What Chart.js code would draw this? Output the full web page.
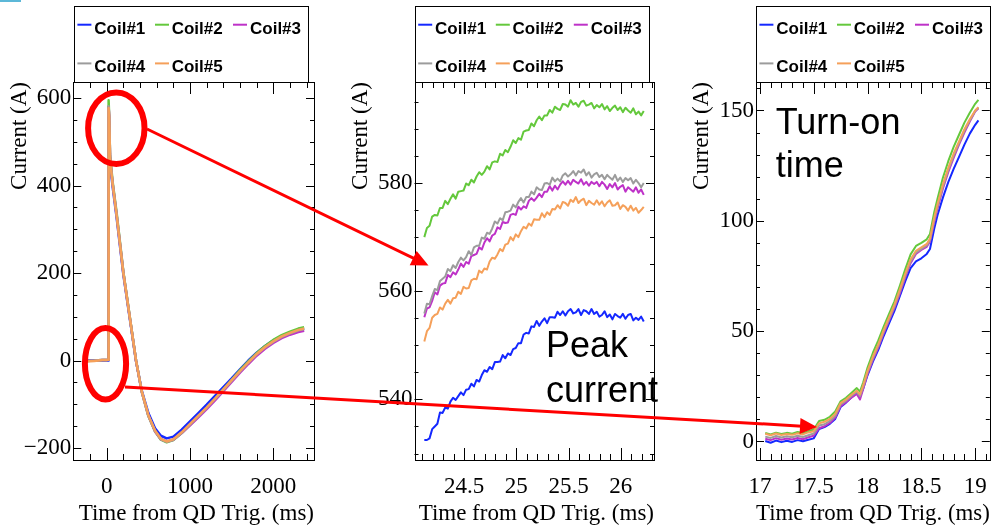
<!DOCTYPE html>
<html><head><meta charset="utf-8">
<script src="https://cdn.jsdelivr.net/npm/chart.js@4"></script>
<style>
html,body{margin:0;padding:0;background:#fff;}
body{width:992px;height:528px;overflow:hidden;position:relative;}
canvas{position:absolute;left:0;top:0;}
#ov{position:absolute;left:0;top:0;}
#tab{position:absolute;left:0;top:0;width:21px;height:2px;background:#5cb8d8;}
</style></head><body>
<div id="tab"></div>
<canvas id="c1" width="1000" height="528"></canvas>
<canvas id="c2" width="1000" height="528"></canvas>
<canvas id="c3" width="1000" height="528"></canvas>
<svg id="ov" width="992" height="528" xmlns="http://www.w3.org/2000/svg"></svg>
<script>
// ---------- data ----------
const SERIES = ['Coil#1', 'Coil#2', 'Coil#3', 'Coil#4', 'Coil#5'];
const COLORS = ['#1428ff', '#64c83c', '#be32c8', '#9c9c9c', '#f5a05a'];
const X_TITLE = 'Time from QD Trig. (ms)';
const Y_TITLE = 'Current (A)';

// Panel 1: full discharge
const T1 = [-250, -150, -50, 0, 17, 20, 22, 24, 25.6, 30, 40, 55, 72, 120, 200, 280, 352, 420, 500, 580, 650, 720, 800, 900, 1000, 1100, 1200, 1300, 1400, 1500, 1600, 1700, 1800, 1900, 2000, 2100, 2200, 2300, 2370];
const P1_COIL1 = [0, 0, 0, 0, 0, 140, 330, 532, 555, 530, 450, 425, 396, 325, 196, 92, -1, -68, -120, -155, -172, -178, -174, -158, -139, -120, -101, -81, -61, -41, -20, 0, 18, 33, 46, 56, 64, 70, 73];
const P1_COIL2 = [-1, 0, 1, 1, 2, 155, 360, 569, 595, 556, 470, 440, 407, 336, 203, 96, 0, -71, -127, -162, -181, -187, -182, -166, -147, -128, -108, -88, -66, -44, -22, -2, 17, 33, 47, 58, 66, 73, 76];
const P1_COIL3 = [-1, 0, 1, 1, 2, 148, 345, 555, 579, 558, 465, 433, 403, 331, 200, 94, -1, -71, -126, -162, -180, -185, -181, -166, -148, -130, -111, -91, -70, -49, -28, -8, 11, 27, 40, 51, 59, 65, 68];
const P1_COIL4 = [-1, 0, 1, 1, 2, 150, 350, 556, 581, 560, 466, 434, 404, 332, 201, 95, 0, -70, -126, -161, -180, -186, -181, -165, -146, -127, -108, -88, -67, -46, -25, -5, 14, 30, 43, 54, 62, 69, 72];
const P1_COIL5 = [-2, -1, 1, 1, 2, 150, 350, 551, 577, 556, 464, 432, 402, 330, 200, 95, 0, -70, -125, -160, -179, -185, -180, -164, -145, -126, -107, -87, -66, -45, -24, -4, 15, 31, 44, 55, 63, 70, 73];
const P1_XTICKS = [0, 1000, 2000];
const P1_YTICKS = [-200, 0, 200, 400, 600];

// Panel 2: peak current
const T2 = [24.12, 24.145, 24.17, 24.195, 24.22, 24.245, 24.27, 24.295, 24.32, 24.345, 24.37, 24.395, 24.42, 24.445, 24.47, 24.495, 24.52, 24.545, 24.57, 24.595, 24.62, 24.645, 24.67, 24.695, 24.72, 24.745, 24.77, 24.795, 24.82, 24.845, 24.87, 24.895, 24.92, 24.945, 24.97, 24.995, 25.02, 25.045, 25.07, 25.095, 25.12, 25.145, 25.17, 25.195, 25.22, 25.245, 25.27, 25.295, 25.32, 25.345, 25.37, 25.395, 25.42, 25.445, 25.47, 25.495, 25.52, 25.545, 25.57, 25.595, 25.62, 25.645, 25.67, 25.695, 25.72, 25.745, 25.77, 25.795, 25.82, 25.845, 25.87, 25.895, 25.92, 25.945, 25.97, 25.995, 26.02, 26.045, 26.07, 26.095, 26.12, 26.145, 26.17, 26.195, 26.22];
const P2_COIL1 = [532.5, 532.5, 532.8, 534.5, 535.0, 535.5, 537.6, 537.5, 538.5, 538.3, 539.6, 540.3, 539.9, 540.6, 541.3, 540.8, 541.8, 541.9, 542.9, 542.4, 543.6, 543.3, 544.5, 545.4, 545.1, 546.0, 545.6, 546.9, 546.9, 547.0, 548.2, 547.6, 548.5, 548.2, 549.3, 549.5, 550.4, 550.4, 552.0, 552.3, 552.2, 553.5, 553.4, 554.5, 553.6, 554.4, 555.0, 554.1, 555.2, 555.2, 555.1, 556.2, 555.6, 556.3, 555.5, 556.3, 556.7, 555.9, 556.1, 556.7, 555.6, 556.5, 556.3, 555.8, 556.7, 555.8, 556.2, 555.3, 555.6, 556.3, 555.2, 555.7, 554.8, 555.8, 555.4, 555.1, 555.8, 554.9, 555.6, 555.8, 554.6, 555.1, 554.7, 555.3, 554.4];
const P2_COIL2 = [570.0, 571.7, 572.1, 573.8, 574.1, 574.0, 575.4, 575.4, 576.7, 576.1, 577.1, 577.9, 577.1, 578.4, 578.5, 578.6, 579.9, 579.6, 580.6, 580.1, 581.2, 582.0, 581.5, 582.1, 583.1, 582.5, 583.8, 584.0, 583.9, 585.4, 585.1, 586.1, 585.7, 586.7, 587.9, 587.4, 588.3, 588.0, 589.5, 589.7, 589.8, 591.0, 590.5, 591.6, 592.3, 591.6, 592.5, 592.5, 593.5, 593.0, 594.1, 593.7, 593.5, 594.6, 594.5, 594.1, 595.3, 594.5, 594.8, 594.1, 595.0, 595.2, 594.3, 594.5, 594.8, 593.8, 594.4, 594.0, 594.6, 593.6, 594.2, 593.3, 593.9, 594.3, 593.5, 594.0, 593.1, 593.9, 593.4, 593.0, 593.8, 592.7, 593.2, 592.5, 593.3];
const P2_COIL3 = [555.2, 556.8, 557.0, 558.2, 559.8, 559.4, 561.0, 561.4, 561.5, 563.0, 562.6, 563.5, 563.1, 564.0, 565.1, 564.5, 565.4, 565.1, 566.5, 566.7, 566.9, 568.1, 567.7, 569.0, 569.8, 569.2, 570.3, 570.6, 571.8, 571.5, 572.8, 572.6, 572.7, 574.1, 574.3, 574.1, 575.6, 575.1, 575.7, 575.4, 576.7, 577.2, 576.7, 577.3, 578.0, 577.4, 578.4, 578.4, 579.4, 578.6, 579.5, 578.8, 579.7, 580.3, 579.7, 580.4, 579.7, 580.6, 580.2, 579.9, 580.7, 579.7, 580.2, 579.5, 580.2, 579.8, 580.2, 579.4, 580.2, 579.7, 578.9, 579.8, 579.2, 580.0, 578.8, 579.3, 579.6, 578.4, 579.2, 578.8, 578.4, 579.2, 578.2, 578.8, 577.8];
const P2_COIL4 = [555.9, 557.7, 557.6, 559.1, 560.4, 560.2, 561.9, 562.3, 562.7, 564.1, 563.7, 564.8, 564.3, 565.4, 566.2, 565.7, 566.3, 567.4, 566.7, 568.1, 568.4, 568.4, 569.9, 569.7, 570.8, 570.6, 571.6, 572.9, 572.5, 573.5, 573.1, 574.6, 574.7, 574.9, 576.0, 575.5, 576.5, 577.2, 576.4, 577.4, 577.4, 578.4, 577.9, 579.2, 578.8, 578.7, 579.9, 580.0, 579.7, 581.0, 580.3, 580.8, 580.3, 581.4, 581.8, 581.2, 581.6, 582.2, 581.4, 582.2, 581.9, 582.5, 581.4, 582.0, 581.0, 581.6, 581.9, 581.1, 581.5, 580.7, 581.5, 581.0, 580.6, 581.5, 580.4, 581.0, 580.2, 580.9, 580.5, 580.9, 579.9, 580.6, 580.0, 579.2, 580.0];
const P2_COIL5 = [550.7, 552.6, 553.2, 555.1, 555.6, 555.8, 557.0, 556.6, 557.7, 558.4, 557.7, 558.7, 558.8, 559.9, 559.5, 560.8, 560.5, 560.6, 562.0, 562.3, 562.2, 563.8, 563.4, 564.2, 564.0, 565.5, 566.2, 566.0, 566.8, 567.8, 567.4, 568.6, 568.8, 570.0, 569.4, 570.5, 570.0, 571.1, 571.9, 571.6, 572.5, 572.1, 573.3, 573.2, 573.2, 574.4, 573.7, 574.6, 574.1, 575.2, 575.1, 575.9, 575.3, 576.5, 576.3, 575.8, 576.9, 576.5, 577.4, 576.3, 576.8, 577.1, 575.9, 576.7, 576.3, 576.0, 576.8, 576.0, 576.6, 575.7, 576.4, 576.8, 575.8, 575.9, 576.4, 575.2, 575.9, 575.6, 574.9, 575.8, 574.9, 575.4, 574.5, 575.0, 575.6];
const P2_XTICKS = [24.5, 25, 25.5, 26];
const P2_YTICKS = [540, 560, 580];

// Panel 3: turn-on time
const T3 = [17.05, 17.1, 17.15, 17.2, 17.25, 17.3, 17.35, 17.4, 17.45, 17.5, 17.55, 17.6, 17.65, 17.7, 17.75, 17.8, 17.85, 17.9, 17.93, 17.96, 18.0, 18.05, 18.1, 18.15, 18.2, 18.25, 18.3, 18.35, 18.4, 18.45, 18.5, 18.55, 18.58, 18.62, 18.65, 18.7, 18.75, 18.8, 18.85, 18.9, 18.95, 19.0, 19.03];
const P3_COIL1 = [0.2, -0.6, 0.4, -0.3, 0.3, -0.2, 0.6, 0.1, 0.8, 1.4, 5.6, 6.5, 8.0, 10.2, 15.6, 17.6, 19.9, 22.0, 20.6, 24.0, 30.0, 36.2, 41.5, 47.8, 53.5, 59.2, 65.8, 72.5, 78.5, 81.6, 83.0, 85.0, 87.2, 96.5, 102.5, 110.5, 117.5, 123.5, 129.0, 134.5, 139.5, 143.5, 145.5];
const P3_COIL2 = [3.8, 3.2, 4.0, 3.4, 3.9, 3.5, 4.3, 3.8, 4.6, 5.4, 9.3, 9.8, 11.2, 13.6, 18.2, 19.8, 22.0, 24.2, 22.6, 26.8, 33.5, 40.2, 45.8, 52.0, 57.8, 63.5, 70.5, 78.0, 84.8, 88.6, 90.0, 91.6, 94.0, 104.0, 110.0, 119.5, 127.0, 133.5, 139.0, 144.5, 149.0, 153.0, 154.8];
const P3_COIL3 = [1.2, 0.6, 1.5, 0.8, 1.3, 0.9, 1.6, 1.0, 1.9, 2.6, 6.0, 6.9, 8.4, 10.8, 16.0, 17.8, 19.8, 21.5, 19.0, 23.8, 30.5, 37.0, 42.5, 49.0, 54.8, 60.5, 67.0, 74.2, 80.8, 85.0, 86.8, 88.2, 90.5, 99.5, 105.5, 114.5, 122.0, 128.5, 134.5, 140.0, 145.0, 149.5, 151.0];
const P3_COIL4 = [2.2, 1.6, 2.5, 1.8, 2.4, 1.9, 2.6, 2.0, 2.8, 3.6, 7.2, 7.8, 9.3, 11.6, 16.8, 18.5, 20.6, 22.5, 20.5, 24.8, 31.4, 37.8, 43.3, 49.8, 55.5, 61.2, 68.0, 75.2, 81.6, 85.6, 87.3, 88.8, 91.2, 100.5, 106.5, 115.5, 123.0, 129.5, 135.2, 140.8, 145.5, 149.8, 151.2];
const P3_COIL5 = [3.5, 2.8, 3.6, 2.9, 3.4, 3.0, 3.7, 3.2, 4.1, 4.6, 8.2, 8.9, 10.2, 12.5, 17.4, 19.0, 21.2, 23.0, 21.3, 25.5, 32.0, 38.5, 44.0, 50.5, 56.2, 62.0, 68.8, 76.0, 82.5, 86.4, 88.0, 89.5, 92.0, 101.5, 107.5, 116.5, 124.0, 130.5, 136.0, 141.5, 146.0, 150.0, 151.5];
const P3_XTICKS = [17, 17.5, 18, 18.5, 19];
const P3_YTICKS = [0, 50, 100, 150];

// ---------- drawing ----------
Chart.defaults.font.family = "'Liberation Serif', 'Times New Roman', serif";
Chart.defaults.color = '#000';

const frameTicks = {
  id: 'frameTicks',
  afterDraw(chart, args, o) {
    const {ctx, chartArea: a} = chart;
    const xs = chart.scales.x, ys = chart.scales.y;
    ctx.save();
    ctx.strokeStyle = '#000';
    ctx.lineWidth = 1;
    ctx.beginPath();
    const each = (scale, step, every, fn) => {
      const k0 = Math.ceil(scale.min / step - 1e-9), k1 = Math.floor(scale.max / step + 1e-9);
      for (let k = k0; k <= k1; k++) fn(Math.round(scale.getPixelForValue(k * step)) + 0.5, k % every === 0);
    };
    each(xs, o.xMinor, o.xEvery, (p, maj) => {
      const L = maj ? 12 : 6;
      ctx.moveTo(p, a.bottom); ctx.lineTo(p, a.bottom - L);
      ctx.moveTo(p, a.top); ctx.lineTo(p, a.top + L);
    });
    each(ys, o.yMinor, o.yEvery, (p, maj) => {
      const L = maj ? 8 : 4;
      ctx.moveTo(a.left, p); ctx.lineTo(a.left + L, p);
      ctx.moveTo(a.right, p); ctx.lineTo(a.right - L, p);
    });
    ctx.stroke();
    const l = Math.round(a.left) + 0.5, t = Math.round(a.top) + 0.5;
    ctx.strokeRect(l, t, Math.round(a.right) - Math.round(a.left), Math.round(a.bottom) - Math.round(a.top));
    ctx.restore();
  }
};

const fmt = v => String(Math.round(v * 1000) / 1000).replace('-', '\u2212');

function makeChart(id, T, vals, c) {
  const W = 73;
  return new Chart(document.getElementById(id), {
    type: 'line',
    data: {
      datasets: SERIES.map((name, i) => ({
        label: name,
        data: T.map((t, k) => ({x: t, y: vals[i][k]})),
        borderColor: COLORS[i], backgroundColor: COLORS[i],
        borderWidth: c.lw, pointRadius: 0, tension: 0, fill: false,
        borderJoinStyle: 'round', order: SERIES.length - 1 - i
      }))
    },
    options: {
      responsive: false, animation: false, devicePixelRatio: 1,
      layout: {padding: {left: c.left - W, right: 1000 - c.right, top: 82, bottom: 0}},
      plugins: {
        legend: {display: false}, tooltip: {enabled: false},
        frameTicks: {xMinor: c.xMinor, xEvery: c.xEvery, yMinor: c.yMinor, yEvery: c.yEvery}
      },
      scales: {
        x: {
          type: 'linear', min: c.xmin, max: c.xmax,
          grid: {display: false, drawTicks: false}, border: {display: false},
          afterFit: s => { s.height = 68; },
          afterBuildTicks: s => { s.ticks = c.xticks.map(v => ({value: v})); },
          ticks: {autoSkip: false, maxRotation: 0, padding: 13, font: {size: 23}, color: '#000', callback: v => fmt(v)},
          title: {display: true, text: X_TITLE, align: 'end', padding: {top: 0, bottom: 0}, font: {size: 23}, color: '#000'}
        },
        y: {
          type: 'linear', min: c.ymin, max: c.ymax,
          grid: {display: false, drawTicks: false}, border: {display: false},
          afterFit: s => { s.width = W; },
          afterBuildTicks: s => { s.ticks = c.yticks.map(v => ({value: v})); },
          ticks: {autoSkip: false, padding: 2, font: {size: 23}, color: '#000', callback: v => fmt(v)},
          title: {display: true, text: Y_TITLE, align: 'end', padding: {top: c.tpad, bottom: 0}, font: {size: 23}, color: '#000'}
        }
      }
    },
    plugins: [frameTicks]
  });
}

makeChart('c1', T1, [P1_COIL1, P1_COIL2, P1_COIL3, P1_COIL4, P1_COIL5], {
  left: 73.3, right: 314, xmin: -401, xmax: 2488, ymin: -227.4, ymax: 636.6,
  xticks: P1_XTICKS, yticks: P1_YTICKS, xMinor: 200, xEvery: 5, yMinor: 50, yEvery: 4, lw: 2.5, tpad: 5.5
});
makeChart('c2', T2, [P2_COIL1, P2_COIL2, P2_COIL3, P2_COIL4, P2_COIL5], {
  left: 414.5, right: 654, xmin: 24.026, xmax: 26.318, ymin: 528.8, ymax: 598.67,
  xticks: P2_XTICKS, yticks: P2_YTICKS, xMinor: 0.1, xEvery: 5, yMinor: 5, yEvery: 4, lw: 2, tpad: 6
});
makeChart('c3', T3, [P3_COIL1, P3_COIL2, P3_COIL3, P3_COIL4, P3_COIL5], {
  left: 756, right: 995, xmin: 16.964, xmax: 19.136, ymin: -8.4, ymax: 162.9,
  xticks: P3_XTICKS, yticks: P3_YTICKS, xMinor: 0.1, xEvery: 5, yMinor: 10, yEvery: 5, lw: 2, tpad: 5
});

// ---------- legends & annotations (SVG overlay) ----------
const svg = document.getElementById('ov');
const NS = 'http://www.w3.org/2000/svg';
function el(tag, attrs, text) {
  const e = document.createElementNS(NS, tag);
  for (const k in attrs) e.setAttribute(k, attrs[k]);
  if (text !== undefined) e.textContent = text;
  svg.appendChild(e);
  return e;
}
const LEG_BOX = [[74, 308.4], [414.8, 649.2], [756, 990]];
const LINE_OFF = [3.4, 81, 159], TEXT_OFF = [20.3, 97.7, 176], ROW_BASE = [33.7, 72.4];
LEG_BOX.forEach(([L, R]) => {
  el('rect', {x: Math.round(L) + 0.5, y: 6.5, width: Math.round(R - L), height: 76, fill: 'none', stroke: '#000', 'stroke-width': 1});
  SERIES.forEach((name, i) => {
    const row = i < 3 ? 0 : 1, col = i % 3;
    const b = ROW_BASE[row];
    el('line', {x1: L + LINE_OFF[col], x2: L + LINE_OFF[col] + 14, y1: b - 9, y2: b - 9, stroke: COLORS[i], 'stroke-width': 2});
    el('text', {x: L + TEXT_OFF[col], y: b, 'font-family': "'Liberation Sans', Arial, sans-serif", 'font-weight': 'bold', 'font-size': 17, fill: '#000'}, name);
  });
});

const RED = '#ff0000';
el('ellipse', {cx: 116.3, cy: 128.2, rx: 28.2, ry: 35.8, fill: 'none', stroke: RED, 'stroke-width': 6});
el('ellipse', {cx: 105.5, cy: 363.7, rx: 20.6, ry: 35.7, fill: 'none', stroke: RED, 'stroke-width': 6});
function arrow(x1, y1, x2, y2) {
  const dx = x2 - x1, dy = y2 - y1, len = Math.hypot(dx, dy);
  const ux = dx / len, uy = dy / len, nx = -uy, ny = ux;
  const hl = 17, hw = 8;
  const bx = x2 - ux * hl, by = y2 - uy * hl;
  el('line', {x1, y1, x2: bx + ux * 2, y2: by + uy * 2, stroke: RED, 'stroke-width': 3});
  el('polygon', {points: `${x2},${y2} ${bx + nx * hw},${by + ny * hw} ${bx - nx * hw},${by - ny * hw}`, fill: RED});
}
arrow(147, 129, 428.5, 265.5);
arrow(125, 387, 817, 427);

const ANN_FONT = {'font-family': "'Liberation Sans', Arial, sans-serif", 'font-size': 36, fill: '#000'};
el('text', Object.assign({x: 546, y: 356.7}, ANN_FONT), 'Peak');
el('text', Object.assign({x: 546, y: 401.7}, ANN_FONT), 'current');
el('text', Object.assign({x: 775.7, y: 133.7}, ANN_FONT), 'Turn-on');
el('text', Object.assign({x: 775.7, y: 177}, ANN_FONT), 'time');
</script>
</body></html>
